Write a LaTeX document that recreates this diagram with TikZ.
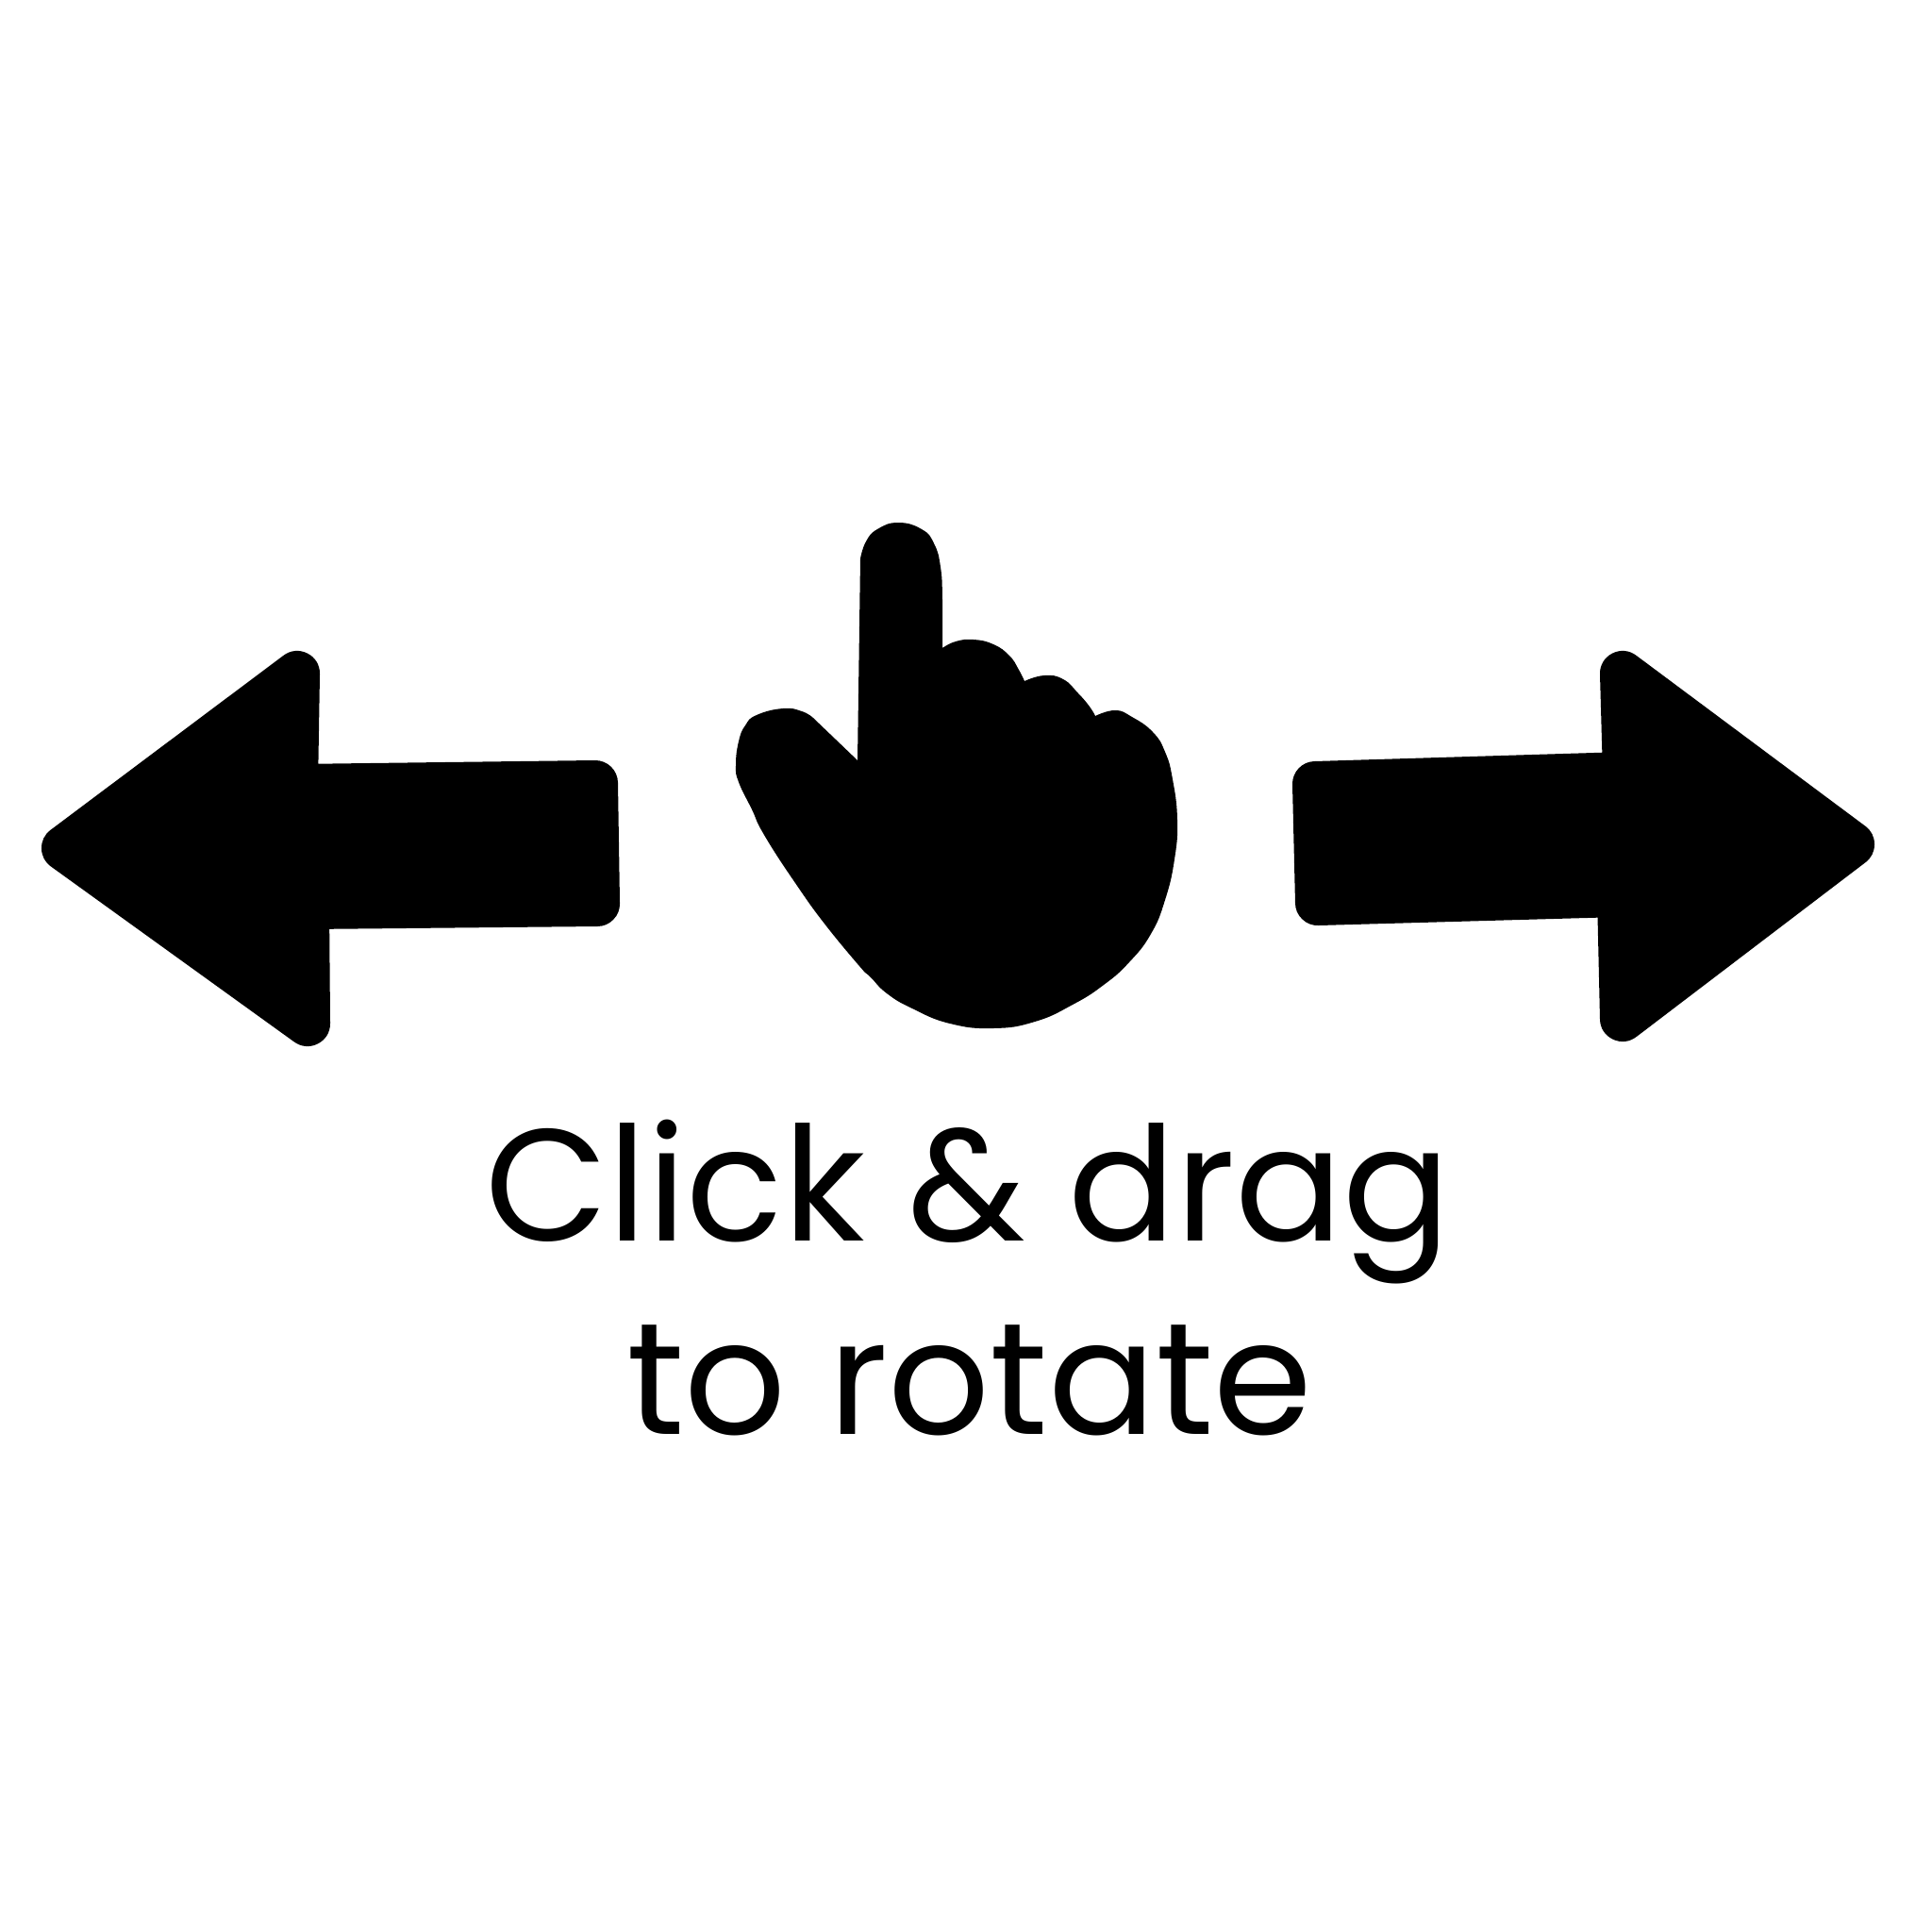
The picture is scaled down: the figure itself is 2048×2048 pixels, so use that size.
\documentclass[tikz,border=0pt]{standalone}
\usepackage{fontspec}
\setmainfont{Poppins}
\tikzset{
  arrowFill/.style={fill=black, draw=black, line width=0.48cm, line join=round},
  handFill/.style={fill=black},
  handEdge/.style={smooth, tension=0.8},
  caption/.style={text=black, inner sep=0pt, anchor=base, font=\fontsize{48}{48}\selectfont}
}

\begin{document}
\begin{tikzpicture}[x=0.01cm, y=-0.01cm]
        \useasboundingbox (0,0) rectangle (2048,2048);
        \fill[white] (0,0) rectangle (2048,2048);
        % left arrow
        \draw[arrowFill] (315,714) -- (313,834) -- (631,830) -- (633,958) -- (325,961) -- (326,1085) -- (68,899) -- cycle;
        % right arrow
        \draw[arrowFill] (1720,714) -- (1723,821) -- (1394,831) -- (1397,957) -- (1717,948) -- (1720,1080) -- (1963,895) -- cycle;
        % hand: index finger, then the other fingers, then palm and thumb
        \fill[handFill] (909,806) -- (912,592)
          -- plot[handEdge] coordinates {(912,592) (918,574) (930,561) (952,554) (977,561) (990,576) (997,601) (999,636) (999,687)}
          -- plot[handEdge] coordinates {(999,687) (1013,680) (1032,678) (1053,683) (1070,695) (1080,710) (1086,722)}
          -- plot[handEdge] coordinates {(1086,722) (1107,716) (1127,720) (1143,735) (1155,749) (1161,759)}
          -- plot[handEdge] coordinates {(1161,759) (1182,753) (1200,760) (1222,776) (1235,797) (1243,826) (1248,869) (1245,911) (1235,954) (1220,990) (1197,1020) (1170,1044) (1137,1065) (1097,1083) (1053,1090) (1007,1085) (967,1069) (940,1053) (923,1036) (917,1031)}
          -- plot[handEdge] coordinates {(917,1031) (877,983) (843,936) (810,885) (797,858) (783,829) (780,811) (783,786) (790,769) (802,758) (830,751) (850,754) (862,761)}
          -- cycle;
        % text
        \node[caption] (clickLine) at (1026,1315) {Click \& drag};
        \node[caption] (rotateLine) at (1028,1520) {to rotate};
      \end{tikzpicture}
\end{document}
